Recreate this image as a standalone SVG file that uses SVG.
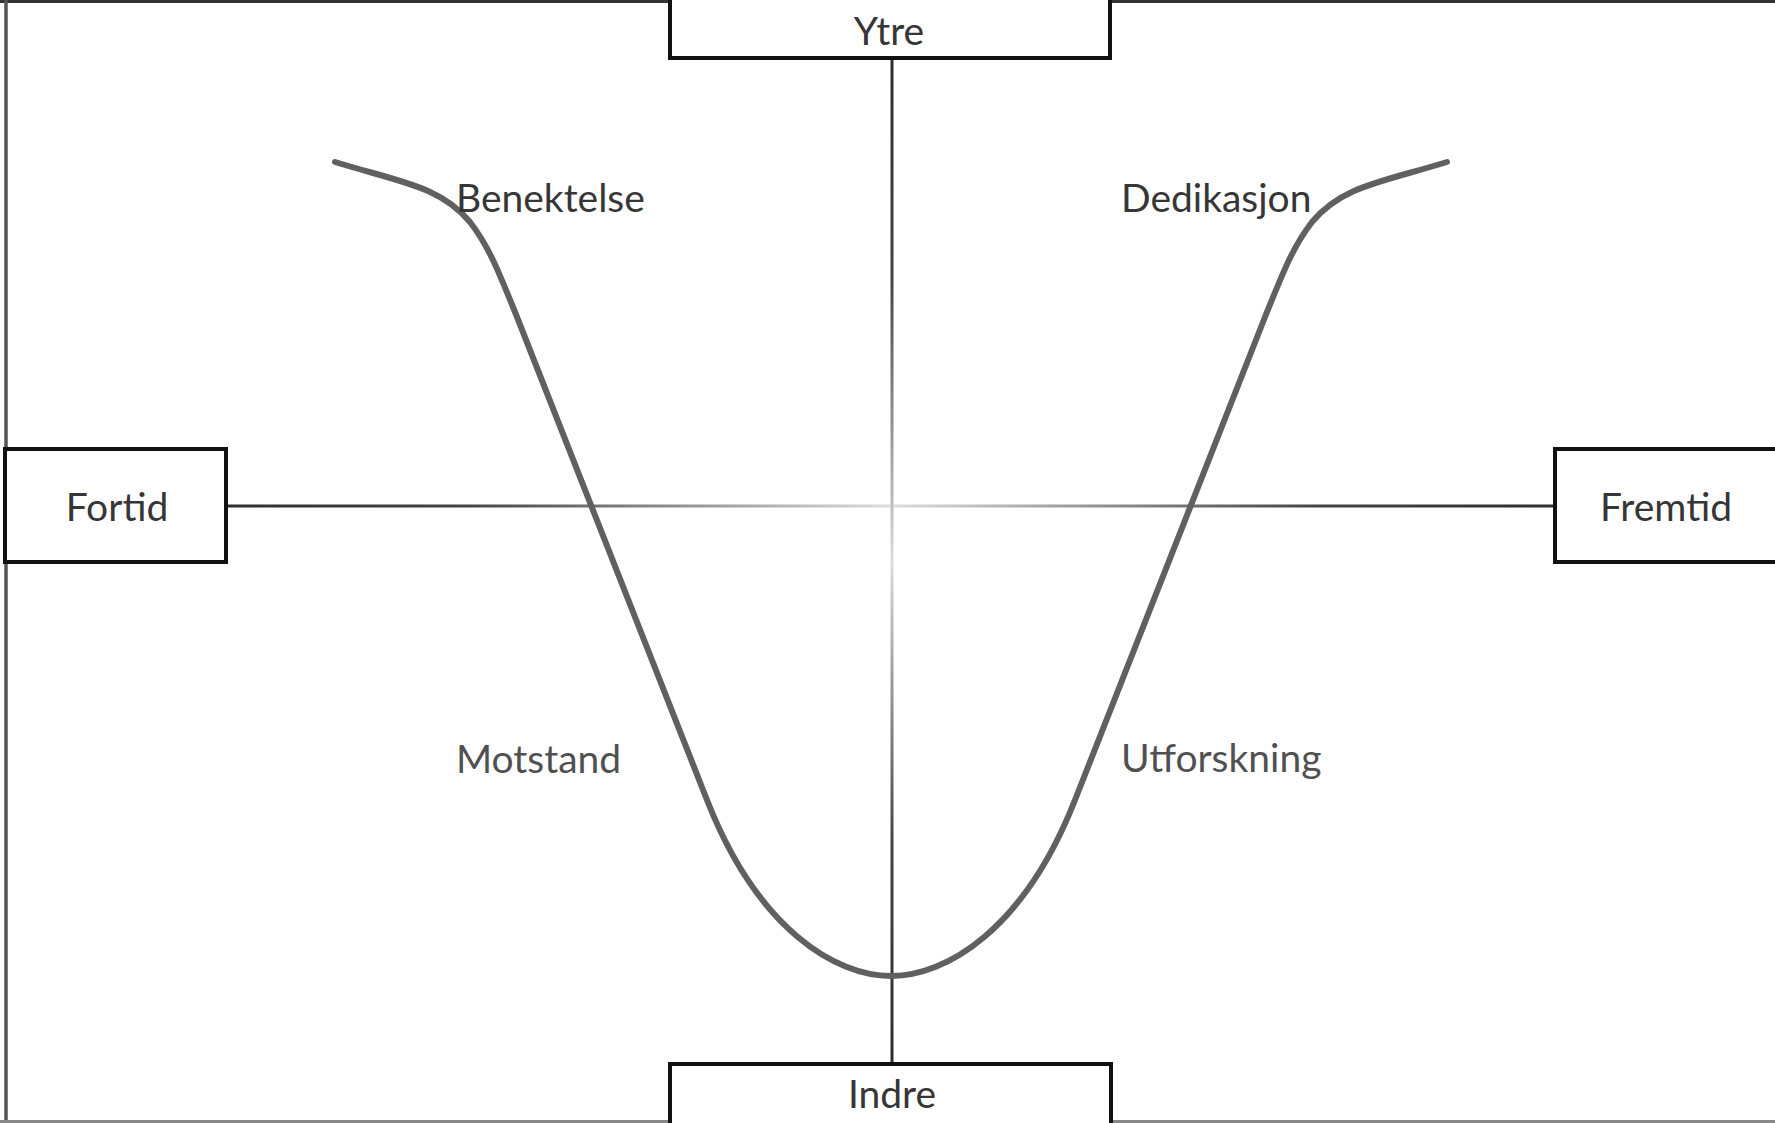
<svg xmlns="http://www.w3.org/2000/svg" width="1775" height="1123" viewBox="0 0 1775 1123">
  <style>
    .box { fill: #ffffff; stroke: #111111; stroke-width: 4; }
    .lbl { font-family: Lato, "Liberation Sans", sans-serif; font-size: 39px; fill: #363636; }
    .mid { text-anchor: middle; }
    .soft { fill: #505050; }
    .axis { fill: none; stroke-width: 3; }
    .curve { fill: none; stroke: #606060; stroke-width: 6; stroke-linecap: round; stroke-linejoin: round; }
  </style>
  <defs>
    <linearGradient id="gh" gradientUnits="userSpaceOnUse" x1="227" y1="0" x2="1554" y2="0">
      <stop offset="0" stop-color="#2e2e2e"/>
      <stop offset="0.18" stop-color="#444444"/>
      <stop offset="0.5" stop-color="#dddddd"/>
      <stop offset="0.82" stop-color="#444444"/>
      <stop offset="1" stop-color="#2e2e2e"/>
    </linearGradient>
    <linearGradient id="gv" gradientUnits="userSpaceOnUse" x1="0" y1="59" x2="0" y2="1063">
      <stop offset="0" stop-color="#2e2e2e"/>
      <stop offset="0.22" stop-color="#444444"/>
      <stop offset="0.5" stop-color="#dddddd"/>
      <stop offset="0.78" stop-color="#444444"/>
      <stop offset="1" stop-color="#2e2e2e"/>
    </linearGradient>
  </defs>

  <rect x="0" y="0" width="1775" height="1123" fill="#ffffff"/>

  <g id="frame">
    <line x1="0" y1="1.5" x2="1775" y2="1.5" stroke="#333333" stroke-width="3"/>
    <line x1="6" y1="0" x2="6" y2="1123" stroke="#555555" stroke-width="3.5"/>
    <line x1="0" y1="1121.5" x2="1775" y2="1121.5" stroke="#888888" stroke-width="3"/>
  </g>

  <g id="connectors">
    <line class="axis" x1="227" y1="506" x2="1554" y2="506" stroke="url(#gh)"/>
    <line class="axis" x1="892" y1="59" x2="892" y2="1063" stroke="url(#gv)"/>
    <path id="curve" class="curve" d="M335,162 C400,182 440,186 470,222 C490,248 500,275 517,317 L707,800 C758,930 836,976 891,976 C946,976 1024,930 1075,800 L1265,317 C1282,275 1292,248 1312,222 C1342,186 1382,182 1447,162"/>
  </g>

  <g id="node-ytre">
    <rect class="box" x="670" y="-6" width="440" height="64"/>
    <text class="lbl mid" x="889" y="45">Ytre</text>
  </g>
  <g id="node-indre">
    <rect class="box" x="670" y="1064" width="441" height="70"/>
    <text class="lbl mid" x="892" y="1108">Indre</text>
  </g>
  <g id="node-fortid">
    <rect class="box" x="5" y="449" width="221" height="113"/>
    <text class="lbl mid" x="117" y="521">Fortid</text>
  </g>
  <g id="node-fremtid">
    <rect class="box" x="1555" y="449" width="240" height="113"/>
    <text class="lbl mid" x="1666" y="521">Fremtid</text>
  </g>

  <g id="labels">
    <text class="lbl" x="456" y="212">Benektelse</text>
    <text class="lbl" x="1121" y="212">Dedikasjon</text>
    <text class="lbl soft" x="456" y="773">Motstand</text>
    <text class="lbl soft" x="1121" y="772">Utforskning</text>
  </g>
</svg>
